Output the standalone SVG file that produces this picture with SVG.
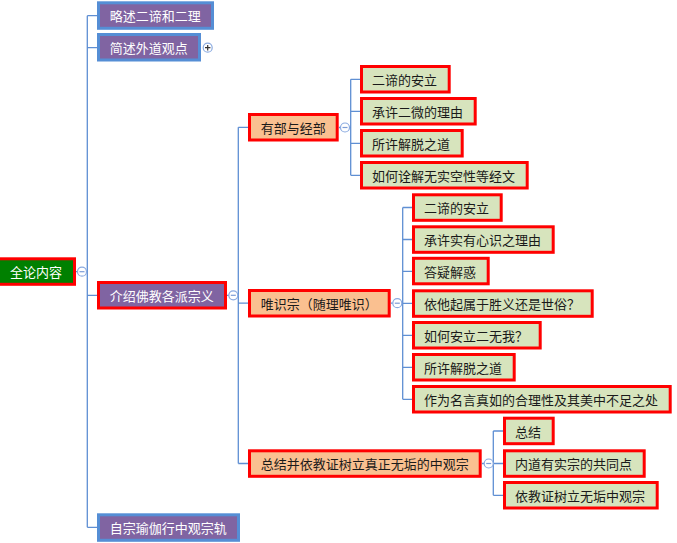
<svg xmlns="http://www.w3.org/2000/svg" width="677" height="543" viewBox="0 0 677 543">
<style>
text{font-family:"Noto Sans CJK SC","Microsoft YaHei","Noto Sans",sans-serif;font-size:13px;}
.root rect{fill:#008000;stroke:#FF0000;stroke-width:3;}
.root text{fill:#FFFFFF;}
.l1 rect{fill:#8064A2;stroke:#558ED5;stroke-width:3;}
.l1.hl rect{stroke:#FF0000;}
.l1 text{fill:#FFFFFF;}
.l2 rect{fill:#FAC090;stroke:#FF0000;stroke-width:3;}
.l2 text{fill:#1A1A1A;}
.l3 rect{fill:#D7E4BD;stroke:#FF0000;stroke-width:3;}
.l3 text{fill:#1A1A1A;}
.conn path{fill:none;stroke:#5F8FD3;stroke-width:1.3;}
.tog circle{fill:#FFFFFF;stroke:#8AAAE0;stroke-width:1.2;}
.tog path{fill:none;stroke:#7C9CD6;stroke-width:1.2;}
.plus path{stroke:#333333;}
</style>
<rect width="677" height="543" fill="#FFFFFF"/>
<g id="connectors" class="conn">
<path d="M76,271.7H82M86.5,271.7H87.3M87.3,15.7V527.3M87.3,15.7H97M87.3,47.7H97M87.3,295.3H97M87.3,527.3H97"/>
<path d="M227,295.3H229M237.8,295.3H238.3M238.3,127.3V463.5M238.3,127.3H248M238.3,303.2H248M238.3,463.5H248"/>
<path d="M339,127.5H340.5M349.5,127.5H350.7M350.7,79.3V175.3M350.7,79.3H360M350.7,111.3H360M350.7,143.3H360M350.7,175.3H360"/>
<path d="M391,303.2H392.8M401.8,303.2H402.7M402.7,207.5V399.3M402.7,207.5H412M402.7,239.5H412M402.7,271.3H412M402.7,303.3H412M402.7,335.3H412M402.7,367.3H412M402.7,399.3H412"/>
<path d="M482,463.5H484.2M493.2,463.5H493.3M493.3,431V495.3M493.3,431H503M493.3,463.5H503M493.3,495.3H503"/>
</g>
<g id="toggles">
<g class="tog"><circle cx="82" cy="271.7" r="4.5"/><path d="M79.5,271.7H84.5"/></g>
<g class="tog"><circle cx="233.3" cy="295.3" r="4.5"/><path d="M230.8,295.3H235.8"/></g>
<g class="tog"><circle cx="345" cy="127.5" r="4.5"/><path d="M342.5,127.5H347.5"/></g>
<g class="tog"><circle cx="397.3" cy="303.2" r="4.5"/><path d="M394.8,303.2H399.8"/></g>
<g class="tog"><circle cx="488.7" cy="463.5" r="4.5"/><path d="M486.2,463.5H491.2"/></g>
<g class="tog plus"><circle cx="207.7" cy="47.7" r="4.5"/><path d="M205,47.7H210.4M207.7,45V50.4"/></g>
</g>
<g id="n-root" class="root"><rect x="-1.5" y="258.8" width="76" height="25.5"/><text x="10" y="277.2">全论内容</text></g>
<g id="n-l1-1" class="l1"><rect x="98.5" y="2.8" width="114" height="25.5"/><text x="109.7" y="21.2">略述二谛和二理</text></g>
<g id="n-l1-2" class="l1"><rect x="98.5" y="34.5" width="101" height="25.5"/><text x="109.7" y="53.2">简述外道观点</text></g>
<g id="n-l1-3" class="l1 hl"><rect x="98.5" y="282.5" width="127" height="25.5"/><text x="109.7" y="300.8">介绍佛教各派宗义</text></g>
<g id="n-l1-4" class="l1"><rect x="98.5" y="514.8" width="140" height="25.5"/><text x="109.7" y="532.8">自宗瑜伽行中观宗轨</text></g>
<g id="n-l2-1" class="l2"><rect x="249.5" y="114.5" width="87.7" height="25.5"/><text x="260.7" y="133">有部与经部</text></g>
<g id="n-l2-2" class="l2"><rect x="249.5" y="290.5" width="139.7" height="25.5"/><text x="260.7" y="308.7">唯识宗（随理唯识）</text></g>
<g id="n-l2-3" class="l2"><rect x="249.5" y="450.8" width="230.7" height="25.5"/><text x="260.7" y="469">总结并依教证树立真正无垢的中观宗</text></g>
<g id="n-a1" class="l3"><rect x="361.5" y="66.5" width="87.7" height="25.5"/><text x="372" y="84.8">二谛的安立</text></g>
<g id="n-a2" class="l3"><rect x="361.5" y="98.5" width="113.7" height="25.5"/><text x="372" y="116.8">承许二微的理由</text></g>
<g id="n-a3" class="l3"><rect x="361.5" y="130.5" width="100.7" height="25.5"/><text x="372" y="148.8">所许解脱之道</text></g>
<g id="n-a4" class="l3"><rect x="361.5" y="162.5" width="165.7" height="25.5"/><text x="372" y="180.8">如何诠解无实空性等经文</text></g>
<g id="n-b1" class="l3"><rect x="413.5" y="194.8" width="87.7" height="25.5"/><text x="424" y="213">二谛的安立</text></g>
<g id="n-b2" class="l3"><rect x="413.5" y="226.8" width="139.7" height="25.5"/><text x="424" y="245">承许实有心识之理由</text></g>
<g id="n-b3" class="l3"><rect x="413.5" y="258.3" width="74.7" height="25.5"/><text x="424" y="276.8">答疑解惑</text></g>
<g id="n-b4" class="l3"><rect x="413.5" y="290.8" width="178.7" height="25.5"/><text x="424" y="308.8">依他起属于胜义还是世俗？</text></g>
<g id="n-b5" class="l3"><rect x="413.5" y="322.5" width="126.7" height="25.5"/><text x="424" y="340.8">如何安立二无我？</text></g>
<g id="n-b6" class="l3"><rect x="413.5" y="354.5" width="100.7" height="25.5"/><text x="424" y="372.8">所许解脱之道</text></g>
<g id="n-b7" class="l3"><rect x="413.5" y="386.5" width="256.7" height="25.5"/><text x="424" y="404.8">作为名言真如的合理性及其美中不足之处</text></g>
<g id="n-c1" class="l3"><rect x="504.5" y="418.2" width="48.7" height="25.5"/><text x="515" y="436.5">总结</text></g>
<g id="n-c2" class="l3"><rect x="504.5" y="450.8" width="139.7" height="25.5"/><text x="515" y="469">内道有实宗的共同点</text></g>
<g id="n-c3" class="l3"><rect x="504.5" y="482.5" width="152.7" height="25.5"/><text x="515" y="500.8">依教证树立无垢中观宗</text></g>
</svg>
